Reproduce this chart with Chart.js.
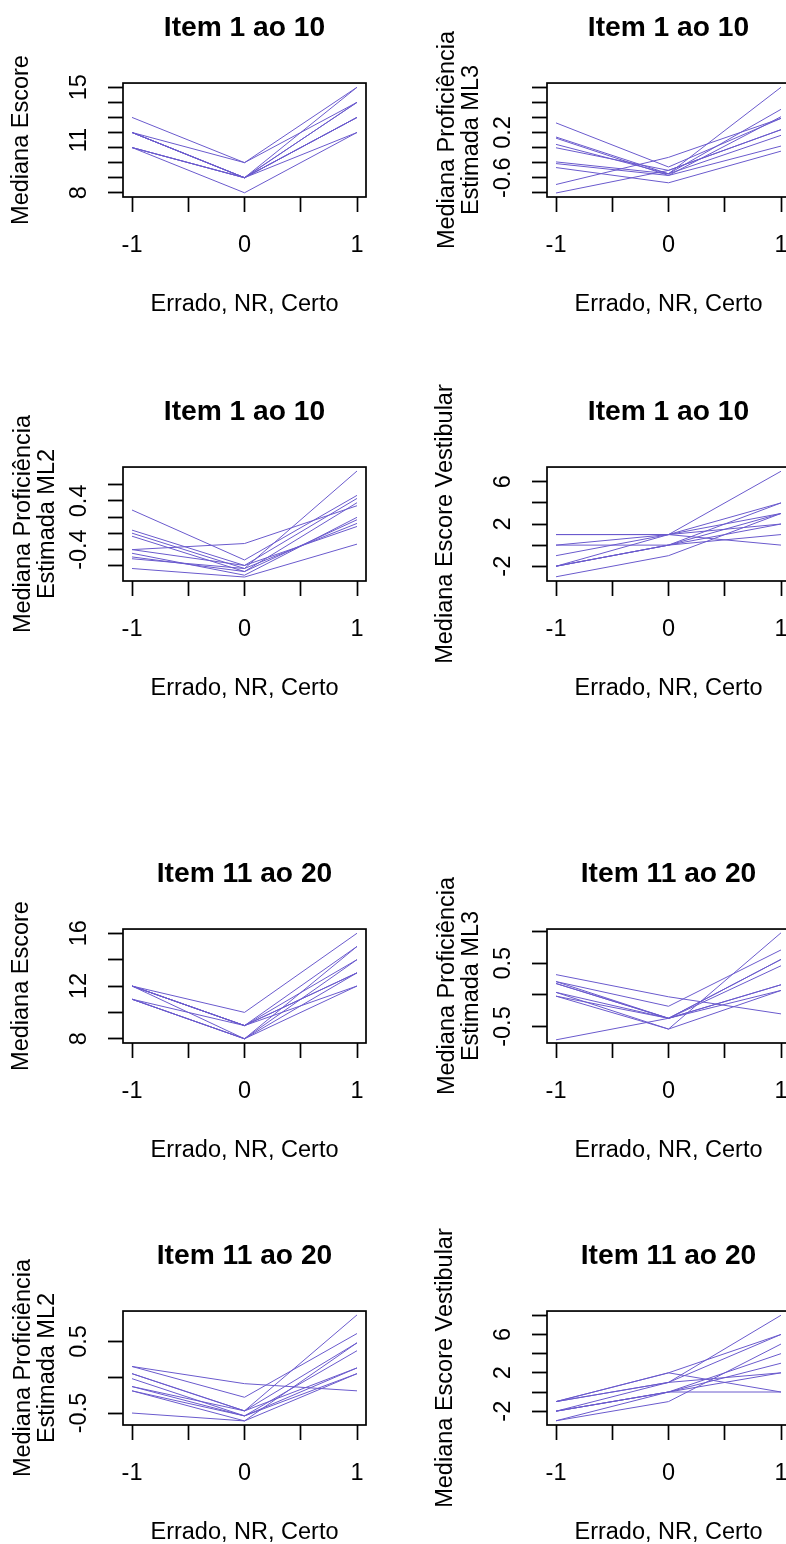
<!DOCTYPE html>
<html>
<head>
<meta charset="utf-8">
<script src="https://cdn.jsdelivr.net/npm/chart.js@4.4.1/dist/chart.umd.min.js"></script>
<style>
  html, body { margin: 0; padding: 0; background: #fff; overflow: hidden; width: 786px; height: 1544px; }
  #sheet { position: absolute; left: 0; top: 0; width: 786px; height: 1544px; overflow: hidden; }
  #sheet canvas { position: absolute; }
</style>
</head>
<body>
<div id="sheet"></div>
<script>
// ── DATA ──
const xValues = [-1, 0, 1];              // Errado, NR, Certo
const xTickMarks = [-1, -0.5, 0, 0.5, 1];
const xTickLabels = [-1, 0, 1];
const xTitle = 'Errado, NR, Certo';
const panelTitles = ['Item 1 ao 10', 'Item 11 ao 20'];
const yTitleEscore = 'Mediana Escore';
const yTitleML3 = ['Mediana Proficiência', 'Estimada ML3'];
const yTitleML2 = ['Mediana Proficiência', 'Estimada ML2'];
const yTitleVest = 'Mediana Escore Vestibular';

// one row per item: [Errado, NR, Certo]
const escore1 = [
  [13, 10, 15], [12, 10, 14], [12, 9, 14], [12, 9, 13], [12, 9, 15],
  [11, 9, 13], [11, 8, 12], [11, 9, 12], [12, 9, 14], [11, 9, 13]
];
const ml3_1 = [
  [0.37, -0.41, 0.45], [0.12, -0.53, 0.61], [0.10, -0.56, 0.48], [-0.01, -0.53, 1.00],
  [-0.07, -0.47, 0.25], [-0.32, -0.53, 0.15], [-0.35, -0.56, -0.04], [-0.42, -0.69, -0.13],
  [-0.72, -0.24, 0.45], [-0.87, -0.47, 0.25]
];
const ml2_1 = [
  [0.25, -0.57, 0.49], [-0.08, -0.66, 0.44], [-0.13, -0.71, 0.89], [-0.18, -0.76, 0.37],
  [-0.40, -0.30, 0.32], [-0.46, -0.82, 0.13], [-0.52, -0.76, 0.09], [-0.55, -0.71, 0.03],
  [-0.71, -0.85, -0.31], [-0.40, -0.66, -0.02]
];
const vest1 = [
  [1, 1, 7], [1, 1, 0], [0, 0, 1], [0, 1, 3], [-1, 1, 4],
  [-2, 0, 3], [-2, 1, 2], [-2, 0, 2], [-3, -1, 3], [-2, 0, 4]
];
const escore2 = [
  [12, 10, 16], [12, 9, 15], [12, 9, 14], [12, 9, 13], [12, 8, 14],
  [11, 8, 13], [11, 8, 12], [11, 9, 12], [12, 9, 13], [11, 8, 15]
];
const ml3_2 = [
  [0.32, -0.03, -0.30], [0.21, -0.18, 0.71], [0.18, -0.37, 0.46], [0.21, -0.37, 0.56],
  [0.18, -0.37, 0.16], [0.04, -0.54, 0.98], [-0.02, -0.37, 0.07], [0.04, -0.37, 0.16],
  [-0.02, -0.54, 0.07], [-0.71, -0.37, 0.56]
];
const ml2_2 = [
  [0.15, -0.09, -0.19], [0.15, -0.28, 0.61], [0.05, -0.47, 0.87], [0.05, -0.47, 0.48],
  [-0.02, -0.54, 0.37], [-0.13, -0.54, 0.13], [-0.19, -0.61, 0.05], [-0.13, -0.47, 0.13],
  [-0.19, -0.54, 0.05], [-0.50, -0.61, 0.48]
];
const vest2 = [
  [-1, 2, 0], [-1, 1, 6], [-1, 1, 2], [-2, 1, 8], [-2, 0, 4],
  [-2, 0, 3], [-3, -1, 5], [-3, 0, 2], [-1, 2, 6], [-2, 0, 0]
];

// y axes: [min, max], tick marks, labelled positions
const escore1Range = [7.72, 15.28];
const escore1Marks = [8, 9, 10, 11, 12, 13, 14, 15];
const escore1Labels = [[8, '8'], [11.5, '11'], [15, '15']];
const ml3_1Range = [-0.941, 1.075];
const ml3_1Marks = [-0.867, -0.6, -0.333, -0.067, 0.2, 0.467, 0.733, 1.0];
const ml3_1Labels = [[-0.6, '-0.6'], [0.2, '0.2']];
const ml2_1Range = [-0.915, 0.955];
const ml2_1Marks = [-0.667, -0.4, -0.133, 0.133, 0.4, 0.667];
const ml2_1Labels = [[-0.4, '-0.4'], [0.4, '0.4']];
const vest1Range = [-3.4, 7.4];
const vest1Marks = [-2, 0, 2, 4, 6];
const vest1Labels = [[-2, '-2'], [2, '2'], [6, '6']];
const escore2Range = [7.68, 16.32];
const escore2Marks = [8, 10, 12, 14, 16];
const escore2Labels = [[8, '8'], [12, '12'], [16, '16']];
const ml3_2Range = [-0.76, 1.04];
const ml3_2Marks = [-0.5, 0, 0.5, 1];
const ml3_2Labels = [[-0.5, '-0.5'], [0.5, '0.5']];
const ml2_2Range = [-0.667, 0.924];
const ml2_2Marks = [-0.5, 0, 0.5];
const ml2_2Labels = [[-0.5, '-0.5'], [0.5, '0.5']];
const vest2Range = [-3.44, 8.44];
const vest2Marks = [-2, 0, 2, 4, 6, 8];
const vest2Labels = [[-2, '-2'], [2, '2'], [6, '6']];

// ── LAYOUT ──
const LINE_COLOR = '#6a5acd';
const FONT = '"Liberation Sans", Arial, sans-serif';
const AXIS_FONT = 23.5, TITLE_FONT = 28.2;
const CANVAS_W = 390, CANVAS_H = 330;
const COL_LEFT = [0, 424];
const ROW_TOP = [0, 383.5, 845.5, 1228];
const AXIS_W = 123, AXIS_H = 133, RIGHT_PAD = 24;
const Y_TICK = 15, LABEL_X = 80;

const panels = [
  { col: 0, row: 0, title: panelTitles[0], ytitle: yTitleEscore, lines: escore1, range: escore1Range, marks: escore1Marks, labels: escore1Labels },
  { col: 1, row: 0, title: panelTitles[0], ytitle: yTitleML3, lines: ml3_1, range: ml3_1Range, marks: ml3_1Marks, labels: ml3_1Labels },
  { col: 0, row: 1, title: panelTitles[0], ytitle: yTitleML2, lines: ml2_1, range: ml2_1Range, marks: ml2_1Marks, labels: ml2_1Labels },
  { col: 1, row: 1, title: panelTitles[0], ytitle: yTitleVest, lines: vest1, range: vest1Range, marks: vest1Marks, labels: vest1Labels },
  { col: 0, row: 2, title: panelTitles[1], ytitle: yTitleEscore, lines: escore2, range: escore2Range, marks: escore2Marks, labels: escore2Labels },
  { col: 1, row: 2, title: panelTitles[1], ytitle: yTitleML3, lines: ml3_2, range: ml3_2Range, marks: ml3_2Marks, labels: ml3_2Labels },
  { col: 0, row: 3, title: panelTitles[1], ytitle: yTitleML2, lines: ml2_2, range: ml2_2Range, marks: ml2_2Marks, labels: ml2_2Labels },
  { col: 1, row: 3, title: panelTitles[1], ytitle: yTitleVest, lines: vest2, range: vest2Range, marks: vest2Marks, labels: vest2Labels }
];

Chart.defaults.font.family = FONT;
Chart.defaults.font.size = AXIS_FONT;
Chart.defaults.color = '#000';

// frame round the plot region (R's box())
const boxPlugin = {
  id: 'box',
  afterDraw(chart) {
    const a = chart.chartArea, c = chart.ctx;
    c.save();
    c.strokeStyle = '#000';
    c.lineWidth = 1.7;
    c.strokeRect(a.left, a.top, a.right - a.left, a.bottom - a.top);
    c.restore();
  }
};

const meas = document.createElement('canvas').getContext('2d');
meas.font = AXIS_FONT + 'px ' + FONT;
const near = (a, b) => Math.abs(a - b) < 1e-6;

const sheet = document.getElementById('sheet');

panels.forEach(p => {
  const cv = document.createElement('canvas');
  cv.width = CANVAS_W;
  cv.height = CANVAS_H;
  cv.style.left = COL_LEFT[p.col] + 'px';
  cv.style.top = ROW_TOP[p.row] + 'px';
  sheet.appendChild(cv);

  const yTicks = [...new Set([...p.marks, ...p.labels.map(l => l[0])])].sort((a, b) => a - b);
  const widest = Math.max(...p.labels.map(l => meas.measureText(l[1]).width));
  const yPad = AXIS_W - Y_TICK - LABEL_X - widest / 2;
  const twoLines = Array.isArray(p.ytitle);

  new Chart(cv, {
    type: 'line',
    data: {
      datasets: p.lines.map(l => ({
        data: xValues.map((x, i) => ({ x, y: l[i] })),
        borderColor: LINE_COLOR,
        borderWidth: 1,
        pointRadius: 0,
        tension: 0,
        fill: false
      }))
    },
    options: {
      responsive: false,
      animation: false,
      devicePixelRatio: 1,
      layout: { padding: { left: 0, right: RIGHT_PAD, top: 0, bottom: 0 } },
      plugins: {
        legend: { display: false },
        tooltip: { enabled: false },
        title: {
          display: true,
          text: p.title,
          fullSize: false,
          color: '#000',
          font: { size: TITLE_FONT, weight: 'bold' },
          padding: { top: 11.1, bottom: 38.1 }
        }
      },
      scales: {
        x: {
          type: 'linear',
          min: -1.08, max: 1.08,
          afterBuildTicks: s => { s.ticks = xTickMarks.map(v => ({ value: v })); },
          afterFit: s => { s.height = AXIS_H; },
          border: { display: false },
          grid: { drawOnChartArea: false, tickLength: 15, tickColor: '#000', tickWidth: 1.7 },
          ticks: {
            autoSkip: false, maxRotation: 0, padding: 19,
            callback: v => xTickLabels.some(t => near(t, v)) ? String(v) : ''
          },
          title: { display: true, text: xTitle, padding: { top: 0, bottom: 11.5 } }
        },
        y: {
          type: 'linear',
          min: p.range[0], max: p.range[1],
          afterBuildTicks: s => { s.ticks = yTicks.map(v => ({ value: v })); },
          afterFit: s => { s.width = AXIS_W; },
          border: { display: false },
          grid: {
            drawOnChartArea: false, tickLength: Y_TICK, tickWidth: 1.8,
            tickColor: c => p.marks.some(m => near(m, c.tick.value)) ? '#000' : 'rgba(0,0,0,0)'
          },
          ticks: {
            autoSkip: false, minRotation: 90, maxRotation: 90, crossAlign: 'center', padding: yPad,
            callback: v => { const l = p.labels.find(t => near(t[0], v)); return l ? l[1] : ''; }
          },
          title: {
            display: true, text: p.ytitle,
            font: { size: AXIS_FONT, lineHeight: 1.0 },
            padding: { top: twoLines ? 12.25 : 10.25, bottom: 0 }
          }
        }
      }
    },
    plugins: [boxPlugin]
  });
});
</script>
</body>
</html>
